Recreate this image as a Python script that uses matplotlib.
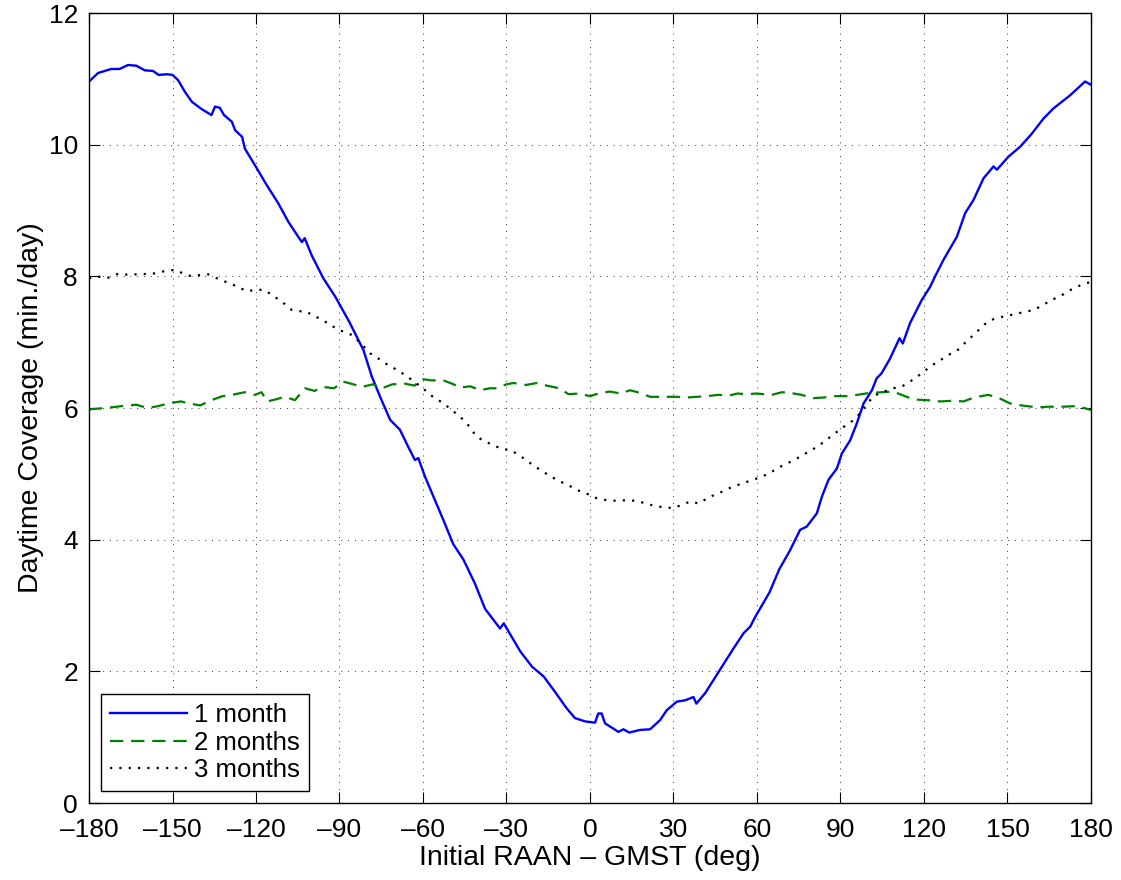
import numpy as np
import matplotlib
matplotlib.use('Agg')
import matplotlib.pyplot as plt

plt.rcParams['font.family'] = ['Liberation Sans', 'DejaVu Sans']

# 1 month
x1 = [-180, -176.7, -172, -169, -166, -163, -160, -157, -155, -152, -150, -148,
      -145.5, -143, -139.5, -136, -134.7, -133, -131.5, -128.7, -127.5, -125, -124,
      -120.4, -116.2, -112, -108.4, -104.8, -103.5, -102.5, -100, -95.8, -91.5,
      -86.5, -81.4, -78.4, -75.4, -71.8, -68.3, -65.3, -62.9, -61.7, -59.3, -55.7,
      -52.7, -49.1, -45.5, -41.3, -37.7, -32.3, -31, -25, -20.8, -16.6, -12.6,
      -8.4, -5.4, -1.8, 1.8, 3, 4.2, 5.4, 8.4, 10.2, 12, 14.1, 18, 21.6, 25.2,
      27.6, 31.2, 34.2, 37.2, 38.2, 41.4, 44.4, 47.4, 51.6, 55.2, 57.6, 59.4,
      61.2, 64.5, 68, 71.9, 75.5, 77.9, 81.5, 83.3, 85.7, 88.7, 90.5, 93.5, 95.9,
      98.3, 101.3, 103, 104.8, 107.8, 111.2, 112.4, 115, 119.2, 122.2, 124, 127,
      131.8, 134.8, 137.8, 141.4, 145, 146.2, 150.4, 154.6, 158.8, 163, 166.5,
      172.5, 177.9, 180]
y1 = [10.96, 11.09, 11.15, 11.15, 11.21, 11.2, 11.13, 11.12, 11.06, 11.07, 11.06, 10.98,
      10.8, 10.65, 10.54, 10.45, 10.58, 10.56, 10.45, 10.35, 10.22, 10.12, 9.94,
      9.69, 9.39, 9.11, 8.83, 8.6, 8.52, 8.58, 8.32, 7.97, 7.69,
      7.31, 6.88, 6.48, 6.17, 5.82, 5.67, 5.41, 5.21, 5.24, 4.96, 4.6,
      4.3, 3.93, 3.7, 3.33, 2.95, 2.65, 2.73, 2.3, 2.07, 1.92, 1.69,
      1.44, 1.29, 1.24, 1.22, 1.36, 1.36, 1.21, 1.13, 1.08, 1.12, 1.07, 1.11, 1.12, 1.26,
      1.41, 1.54, 1.56, 1.61, 1.51, 1.67, 1.87, 2.07, 2.35, 2.58, 2.68, 2.83,
      2.96, 3.2, 3.55, 3.84, 4.15, 4.2, 4.4, 4.65, 4.91, 5.08, 5.31, 5.51, 5.77,
      6.07, 6.27, 6.45, 6.53, 6.75, 7.06, 6.98, 7.29, 7.64, 7.84, 8.0, 8.25,
      8.6, 8.96, 9.16, 9.49, 9.67, 9.62, 9.82, 9.97, 10.17, 10.4, 10.55,
      10.75, 10.96, 10.91]

# 2 months
x2 = [-180, -174, -168, -163, -159, -155, -151.5, -147, -143, -140, -136, -132,
      -127.5, -124, -120.4, -118, -116, -113, -109.6, -106, -102.4, -99, -95.8,
      -92, -88.6, -85, -82, -78, -74.8, -71, -66.5, -63, -60.5, -57, -52.7, -49,
      -46.7, -43, -39.5, -36, -33.5, -30, -27.5, -23, -19.1, -15.5, -11, -7.7,
      -4, 0, 3, 7.2, 11, 14.4, 18, 21.6, 26, 31.2, 35, 38.4, 42, 46, 50, 53,
      56.3, 60, 65.3, 69, 71.9, 76, 80.3, 84, 88, 92.3, 96, 100.6, 105, 109, 112,
      116.2, 121, 125.8, 130, 134.2, 138, 143.1, 147, 150.9, 155, 160.5, 165,
      170.1, 175, 180]
y2 = [5.98, 6.0, 6.03, 6.05, 6.0, 6.03, 6.07, 6.1, 6.06, 6.04, 6.12, 6.18,
      6.21, 6.24, 6.2, 6.24, 6.1, 6.13, 6.17, 6.12, 6.3, 6.26, 6.32,
      6.3, 6.4, 6.36, 6.32, 6.36, 6.3, 6.36, 6.37, 6.34, 6.44, 6.42, 6.42, 6.36,
      6.31, 6.33, 6.27, 6.3, 6.3, 6.36, 6.38, 6.35, 6.38, 6.34, 6.3, 6.21,
      6.22, 6.18, 6.22, 6.25, 6.22, 6.27, 6.23, 6.17, 6.17, 6.17, 6.16, 6.17, 6.18, 6.2, 6.19, 6.22,
      6.21, 6.22, 6.2, 6.24, 6.23, 6.2, 6.15, 6.16, 6.18, 6.18, 6.2, 6.23, 6.24, 6.25, 6.2,
      6.13, 6.12, 6.1, 6.11, 6.1, 6.16, 6.2, 6.15, 6.07, 6.04, 6.01, 6.02,
      6.02, 6.03, 5.97]

# 3 months
x3 = [-180, -177.8, -173, -169.5, -165, -161.7, -158, -154.1, -149.1, -146, -143.1,
      -140, -137.1, -134, -131.1, -127, -123.1, -120, -116.8, -113, -110.8, -107.2,
      -104, -102.4, -99, -96.4, -93, -91, -88, -85.6, -82, -79, -76, -73.6, -69.4,
      -66, -63.2, -60, -57.5, -53, -49.9, -46, -43.1, -40.9, -38.1, -35, -32.3,
      -28, -24, -20.4, -16, -12, -8, -3.8, 0, 2.4, 6, 9.6, 13, 16.8, 20, 23.4, 27,
      30, 33, 36, 39, 43, 47, 51, 55.1, 60, 64.1, 68, 71.9, 75, 78.3, 82, 86.3, 90,
      95.2, 98.5, 101.8, 105, 109, 112.2, 115.3, 119, 122.2, 126, 129.4, 132.4, 135,
      137.8, 142.3, 145, 148.5, 152, 156.3, 159.3, 162.3, 165.3, 169, 172.5, 176,
      179.4, 180]
y3 = [7.97, 8.0, 7.98, 8.04, 8.02, 8.04, 8.03, 8.07, 8.1, 8.04, 8.0,
      8.02, 8.03, 7.97, 7.92, 7.85, 7.77, 7.8, 7.79, 7.68, 7.62, 7.49,
      7.47, 7.47, 7.4, 7.34, 7.26, 7.2, 7.15, 7.11, 6.97, 6.83, 6.75, 6.68, 6.58,
      6.49, 6.4, 6.3, 6.2, 6.08, 5.98, 5.84, 5.71, 5.57, 5.5, 5.44, 5.39,
      5.35, 5.24, 5.13, 5.01, 4.91, 4.83, 4.74, 4.68, 4.63, 4.6, 4.59, 4.6, 4.59, 4.55, 4.51, 4.49,
      4.48, 4.53, 4.58, 4.55, 4.65, 4.72, 4.8, 4.86, 4.93, 5.0, 5.1, 5.18, 5.25, 5.33, 5.42, 5.56, 5.68,
      5.83, 6.0, 6.18, 6.24, 6.3, 6.33, 6.41, 6.52, 6.63, 6.73, 6.82, 6.89, 7.0,
      7.11, 7.29, 7.35, 7.39, 7.42, 7.46, 7.49, 7.55, 7.63, 7.7, 7.79, 7.86,
      7.91, 7.92]

labels = ['1 month', '2 months', '3 months']
xticks = list(range(-180, 181, 30))
yticks = list(range(0, 13, 2))

fig = plt.figure(figsize=(11.21, 8.8), dpi=100)
ax = fig.add_axes([0.0794, 0.0875, 0.8938, 0.8977])

ax.plot(x1, y1, color=(0, 0, 1), lw=1.7, label=labels[0])
ax.plot(x2, y2, color=(0, 0.5, 0), lw=1.6, dashes=(6, 3.5), label=labels[1])
ax.plot(x3, y3, color='k', lw=1.6, dashes=(1, 3.2), label=labels[2])

ax.set_xlim(-180, 180)
ax.set_ylim(0, 12)
ax.set_xticks(xticks)
ax.set_xticklabels([str(t).replace('-', '\u2013') for t in xticks])
ax.set_yticks(yticks)
ax.tick_params(direction='in', length=8, width=0.8, top=True, right=True,
               labelsize=19)
ax.tick_params(axis='x', pad=11)
ax.tick_params(axis='y', pad=8)
ax.grid(True, color='k', linestyle=(0, (1, 6)), lw=0.7, alpha=0.8)
for s in ax.spines.values():
    s.set_linewidth(1.0)

ax.set_xlabel('Initial RAAN \u2013 GMST (deg)', fontsize=20.5, labelpad=2)
ax.set_ylabel('Daytime Coverage (min./day)', fontsize=20.5, labelpad=3)

leg = ax.legend(loc='lower left', fontsize=18.5, fancybox=False, framealpha=1,
                edgecolor='k', handlelength=3.0, borderaxespad=0.45,
                handletextpad=0.3, labelspacing=0.15, borderpad=0.35)
leg.get_frame().set_linewidth(1.0)

fig.savefig('out.png', dpi=100)
